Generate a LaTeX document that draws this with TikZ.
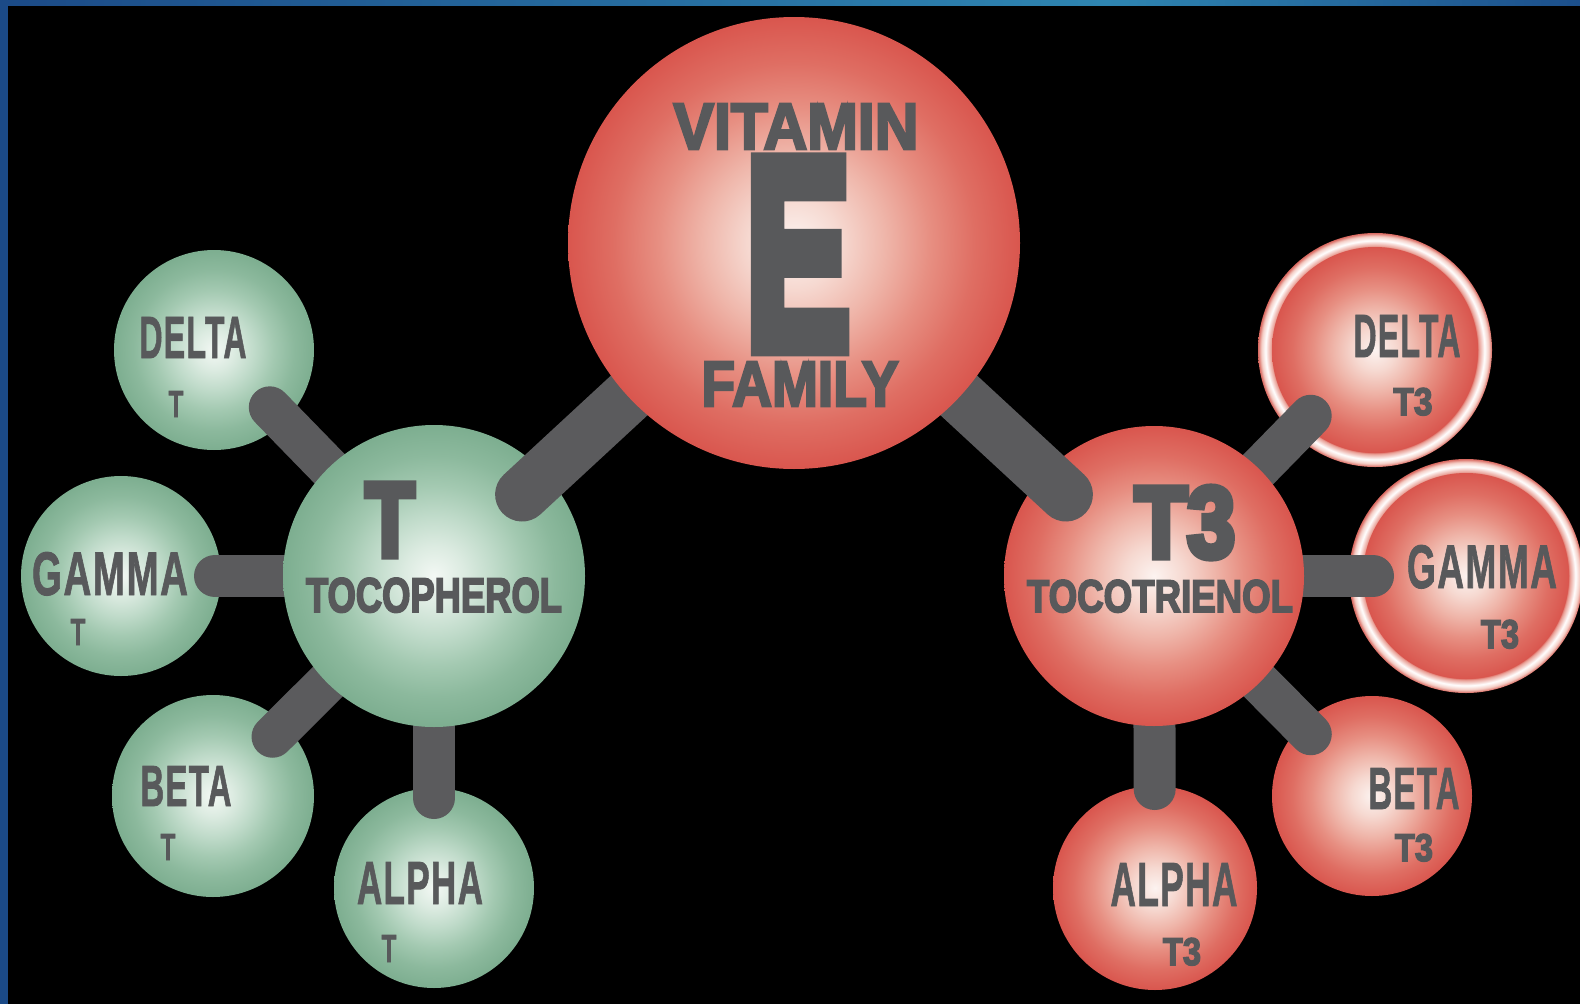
\documentclass[tikz,border=0pt]{standalone}
\usepackage{fontspec}
\usepackage{graphicx}
\newfontfamily\heavyfont{Liberation Sans}[BoldFeatures={FakeBold=4}]
\newfontfamily\efont{Liberation Sans}[BoldFeatures={FakeBold=7}]
\newfontfamily\medfont{Liberation Sans}[BoldFeatures={FakeBold=1.5,LetterSpace=4}]
\usetikzlibrary{calc}
\definecolor{txtgray}{HTML}{58595B}
\definecolor{bargray}{HTML}{5B5B5D}
\definecolor{blueA}{HTML}{1B4A87}
\definecolor{blueB}{HTML}{2E85B1}
\definecolor{blueC}{HTML}{1C4F8B}
\definecolor{rA}{HTML}{FCF3F0}
\definecolor{rB}{HTML}{F6D9D1}
\definecolor{rC}{HTML}{EFB6AA}
\definecolor{rD}{HTML}{E78F82}
\definecolor{rE}{HTML}{DF6E63}
\definecolor{rF}{HTML}{D9564E}
\definecolor{gA}{HTML}{F3F8F4}
\definecolor{gB}{HTML}{DCEBE1}
\definecolor{gC}{HTML}{C0DBCA}
\definecolor{gD}{HTML}{A3C9B1}
\definecolor{gE}{HTML}{8CB99D}
\definecolor{gF}{HTML}{7DAE90}
\definecolor{ringA}{HTML}{E9A096}
\definecolor{ringB}{HTML}{F4CCC4}
\definecolor{ringC}{HTML}{D8665D}
\pgfdeclareradialshading{redball}{\pgfpoint{0bp}{0bp}}{color(0bp)=(rA); color(5bp)=(rB); color(10bp)=(rC); color(15bp)=(rD); color(20bp)=(rE); color(25bp)=(rF); color(50bp)=(rF)}
\pgfdeclareradialshading{greenball}{\pgfpoint{0bp}{0bp}}{color(0bp)=(gA); color(5bp)=(gB); color(10bp)=(gC); color(15bp)=(gD); color(20bp)=(gE); color(25bp)=(gF); color(50bp)=(gF)}
\pgfdeclareradialshading{redring}{\pgfpoint{0bp}{0bp}}{color(0bp)=(rF); color(21.8bp)=(rF); color(22.2bp)=(ringA); color(23.4bp)=(white); color(24.3bp)=(ringB); color(25bp)=(ringC); color(50bp)=(ringC)}
\pgfdeclarehorizontalshading{bluebar}{100bp}{color(0bp)=(blueA); color(25bp)=(blueA); color(60bp)=(blueB); color(75bp)=(blueC); color(100bp)=(blueC)}
\newcommand\txtlbl[7]{\node[lbl] (#1) at (#2,#3) {\resizebox{#4pt}{#5pt}{#6\bfseries #7}};}
\tikzset{
  ball/.style={circle, inner sep=0pt, outer sep=0pt, minimum size=#1},
  gball/.style={ball=#1, shade, shading=greenball},
  rball/.style={ball=#1, shade, shading=redball},
  rring/.style={ball=#1, shade, shading=redring},
  sbar/.style={draw=bargray, line width=42pt, line cap=round},
  ebar/.style={draw=bargray, line width=54pt, line cap=round},
  lbl/.style={anchor=base, inner sep=0pt, outer sep=0pt, text=txtgray},
}
\begin{document}
\begin{tikzpicture}[x=1pt, y=-1pt]
\useasboundingbox (0,0) rectangle (1580,1004);
\fill[black] (0,0) rectangle (1580,1004);
\fill[blueA] (0,0) rectangle (8,1004);
\shade[shading=bluebar] (0,0) rectangle (1580,5);

% small circles
\node[gball=200pt] (Dt) at (214,350) {};
\node[gball=200pt] (Gt) at (121,576) {};
\node[gball=202pt] (Bt) at (213,796) {};
\node[gball=200pt] (At) at (434,888) {};
\node[rring=234pt] (DrR) at (1375,350) {};
\node[rball=206pt] (Dr) at (1375,350) {};
\node[rring=234pt] (GrR) at (1466,576) {};
\node[rball=206pt] (Gr) at (1466,576) {};
\node[rball=200pt] (Br) at (1372,796) {};
\node[rball=204pt] (Ar) at (1155,888) {};

% big circle positions (drawn later)
\coordinate (T) at (434,576);
\coordinate (T3) at (1154,576);
\coordinate (E) at (794,243);

% small bars
\draw[sbar] ($(Dt)!80pt!(T)$) -- (T);
\draw[sbar] ($(Gt)!94pt!(T)$) -- (T);
\draw[sbar] ($(Bt)!84pt!(T)$) -- (T);
\draw[sbar] ($(At)!90pt!(T)$) -- (T);
\draw[sbar] ($(Dr)!92pt!(T3)$) -- (T3);
\draw[sbar] ($(Gr)!93pt!(T3)$) -- (T3);
\draw[sbar] ($(Br)!87pt!(T3)$) -- (T3);
\draw[sbar] ($(Ar)!99pt!(T3)$) -- (T3);

% big circles
\node[gball=302pt] (Tn) at (T) {};
\node[rball=300pt] (T3n) at (T3) {};

% E bars
\draw[ebar] ($(Tn)!120pt!(E)$) -- (E);
\draw[ebar] ($(T3n)!120pt!(E)$) -- (E);

\node[rball=452pt] (En) at (E) {};

% texts
\txtlbl{tV}{796}{149}{245}{45}{\heavyfont}{VITAMIN}
\txtlbl{tE}{798}{347}{104}{185}{\efont}{E}
\txtlbl{tF}{800}{406}{197}{44}{\heavyfont}{FAMILY}
\txtlbl{tT}{390}{556}{49}{72}{\efont}{T}
\txtlbl{tTo}{434}{612}{256}{34}{\heavyfont}{TOCOPHEROL}
\txtlbl{tT3}{1185}{557}{100}{70}{\efont}{T3}
\txtlbl{tTr}{1160}{612}{266}{32}{\heavyfont}{TOCOTRIENOL}
\txtlbl{dT}{193}{358}{107}{41}{\medfont}{DELTA}
\txtlbl{dTs}{176}{417}{15}{26}{\medfont}{T}
\txtlbl{gT}{110}{595}{156}{43}{\medfont}{GAMMA}
\txtlbl{gTs}{78}{645}{15}{26}{\medfont}{T}
\txtlbl{bT}{186}{806}{91}{40}{\medfont}{BETA}
\txtlbl{bTs}{168}{860}{15}{26}{\medfont}{T}
\txtlbl{aT}{420}{904}{126}{42}{\medfont}{ALPHA}
\txtlbl{aTs}{389}{962}{15}{27}{\medfont}{T}
\txtlbl{dR}{1407}{357}{107}{42}{\medfont}{DELTA}
\txtlbl{dRs}{1413}{415}{39}{27}{\heavyfont}{T3}
\txtlbl{gR}{1482}{588}{150}{43}{\medfont}{GAMMA}
\txtlbl{gRs}{1500}{648}{38}{28}{\heavyfont}{T3}
\txtlbl{bR}{1414}{809}{91}{41}{\medfont}{BETA}
\txtlbl{bRs}{1414}{861}{38}{27}{\heavyfont}{T3}
\txtlbl{aR}{1174}{906}{127}{43}{\medfont}{ALPHA}
\txtlbl{aRs}{1182}{965}{38}{27}{\heavyfont}{T3}
\end{tikzpicture}
\end{document}
